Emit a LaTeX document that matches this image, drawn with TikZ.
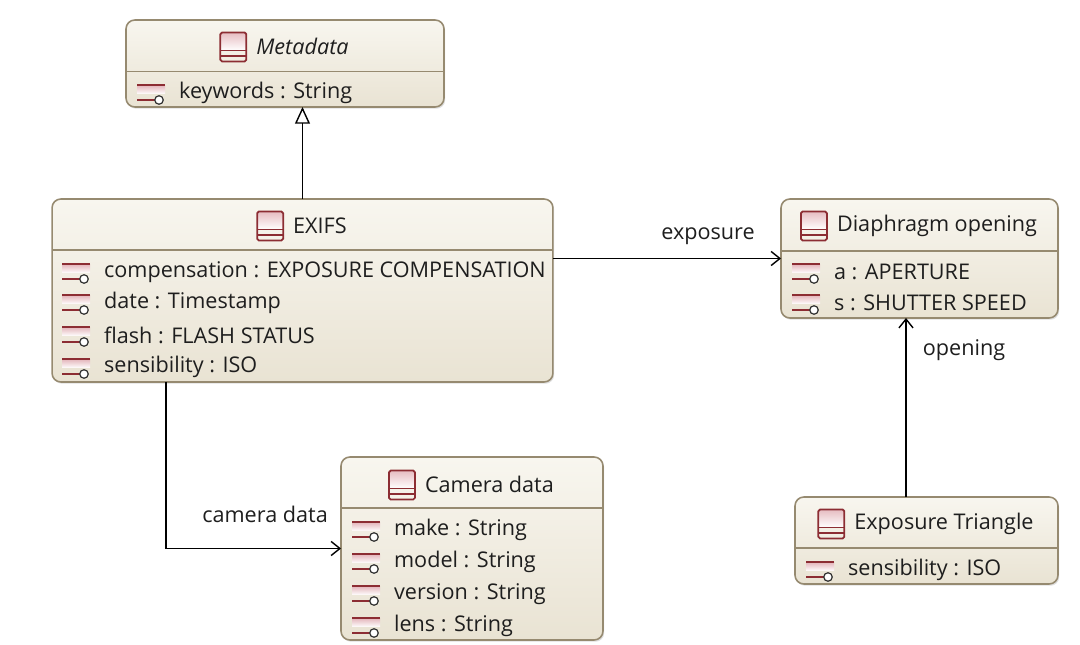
\documentclass[tikz,border=0pt]{standalone}
\usepackage{fontspec}
\setmainfont{Open Sans}
\usetikzlibrary{positioning,arrows.meta,shadows}
\definecolor{boxline}{HTML}{968A70}
\definecolor{boxtop}{HTML}{F8F6EF}
\definecolor{boxbot}{HTML}{E9E3D3}
\definecolor{iconred}{HTML}{8C2D33}
\definecolor{iconpink}{HTML}{E6BCC1}
\definecolor{txt}{HTML}{1E1E1E}
\tikzset{
    classbox/.style={draw=boxline, line width=0.9pt, rounded corners=5pt, outer sep=0pt,
        top color=boxtop, bottom color=boxbot,
        drop shadow={shadow xshift=0.7pt, shadow yshift=-1pt, opacity=0.25}},
    sepline/.style={draw=boxline, line width=1pt},
    ctitle/.style={inner sep=1pt, text=txt, font=\fontsize{12.3}{14}\selectfont},
    attr/.style={inner sep=1pt, anchor=west, text=txt, font=\fontsize{12.3}{14}\selectfont},
    lbl/.style={inner sep=1pt, text=txt, font=\fontsize{12.3}{14}\selectfont},
    assoc/.style={line width=0.8pt, -{Straight Barb[length=5pt, width=8pt]}},
    gen/.style={line width=0.8pt, -{Triangle[open, length=9.5pt, width=8.5pt, fill=white]}},
    clsicon/.pic={
        \shade[top color=iconpink, bottom color=white] (-13,-14) rectangle (13,4);
        \draw[iconred, line width=1pt, rounded corners=1pt] (-13,-14) rectangle (13,15);
        \draw[iconred, line width=1pt] (-13,4) -- (13,4) (-13,9.5) -- (13,9.5);
    },
    attricon/.pic={
        \shade[top color=iconpink, bottom color=white] (0,-7) rectangle (28,1);
        \draw[iconred, line width=1.1pt] (0,-8) -- (28,-8);
        \draw[iconred, line width=0.9pt] (0,7) -- (18,7);
        \draw[black!80, line width=0.7pt, fill=white] (22,7) circle [radius=0.085cm];
    }
}

\begin{document}
\begin{tikzpicture}[x=0.02cm, y=-0.02cm]
\useasboundingbox (0,0) rectangle (1080,645);

% class boxes
\node[classbox, minimum width=6.36cm, minimum height=1.74cm] (meta) at (285,63.5) {};
\node[classbox, minimum width=10.02cm, minimum height=3.66cm] (exifs) at (302.5,290.5) {};
\node[classbox, minimum width=5.54cm, minimum height=2.38cm] (dia) at (919.5,258.5) {};
\node[classbox, minimum width=5.24cm, minimum height=3.66cm] (cam) at (472,548.5) {};
\node[classbox, minimum width=5.26cm, minimum height=1.74cm] (tri) at (926.5,540.5) {};

% separators
\draw[sepline] ([yshift=-1.03cm]meta.north west) -- ([yshift=-1.03cm]meta.north east);
\draw[sepline] ([yshift=-1.02cm]exifs.north west) -- ([yshift=-1.02cm]exifs.north east);
\draw[sepline] ([yshift=-1.04cm]dia.north west) -- ([yshift=-1.04cm]dia.north east);
\draw[sepline] ([yshift=-1.02cm]cam.north west) -- ([yshift=-1.02cm]cam.north east);
\draw[sepline] ([yshift=-1.02cm]tri.north west) -- ([yshift=-1.02cm]tri.north east);

% titles
\node[ctitle] (meta-t) at ([xshift=0.35cm, yshift=-0.53cm]meta.north) {\itshape Metadata};
\node[ctitle] (exifs-t) at ([xshift=0.35cm, yshift=-0.53cm]exifs.north) {EXIFS};
\node[ctitle] (dia-t) at ([xshift=0.35cm, yshift=-0.53cm]dia.north) {Diaphragm opening};
\node[ctitle] (cam-t) at ([xshift=0.35cm, yshift=-0.55cm]cam.north) {Camera data};
\node[ctitle] (tri-t) at ([xshift=0.35cm, yshift=-0.53cm]tri.north) {Exposure Triangle};
\pic at ([xshift=-0.42cm]meta-t.west) {clsicon};
\pic at ([xshift=-0.42cm]exifs-t.west) {clsicon};
\pic at ([xshift=-0.42cm]dia-t.west) {clsicon};
\pic at ([xshift=-0.42cm]cam-t.west) {clsicon};
\pic at ([xshift=-0.42cm]tri-t.west) {clsicon};

% attributes
\node[attr] (meta-a1) at (177,93) {keywords : String};
\node[attr] (exifs-a1) at (102,272) {compensation : EXPOSURE COMPENSATION};
\node[attr] (exifs-a2) at (102,303) {date : Timestamp};
\node[attr] (exifs-a3) at (102,335) {flash : FLASH STATUS};
\node[attr] (exifs-a4) at (102,367) {sensibility : ISO};
\node[attr] (dia-a1) at (832,272) {a : APERTURE};
\node[attr] (dia-a2) at (832,303) {s : SHUTTER SPEED};
\node[attr] (cam-a1) at (392,530) {make : String};
\node[attr] (cam-a2) at (392,562) {model : String};
\node[attr] (cam-a3) at (392,594) {version : String};
\node[attr] (cam-a4) at (392,626) {lens : String};
\node[attr] (tri-a1) at (846,570) {sensibility : ISO};
\foreach \a in {meta-a1,exifs-a1,exifs-a2,exifs-a3,exifs-a4,dia-a1,dia-a2,cam-a1,cam-a2,cam-a3,cam-a4,tri-a1}
    \pic at ([xshift=-0.8cm]\a.west) {attricon};

% links
\draw[gen] (exifs.north) -- (exifs.north |- meta.south);
\draw[assoc] (exifs.east |- dia.west) -- (dia.west) node[lbl, pos=0.68, yshift=0.44cm] {exposure};
\draw[assoc] ([xshift=-0.41cm]tri.north) -- ([xshift=-0.41cm]tri.north |- dia.south) node[lbl, pos=0.82, xshift=1.16cm] {opening};
\draw[assoc] ([xshift=-2.73cm]exifs.south) |- (cam.west) node[lbl, pos=0.783, yshift=0.68cm] {camera data};
\end{tikzpicture}
\end{document}
